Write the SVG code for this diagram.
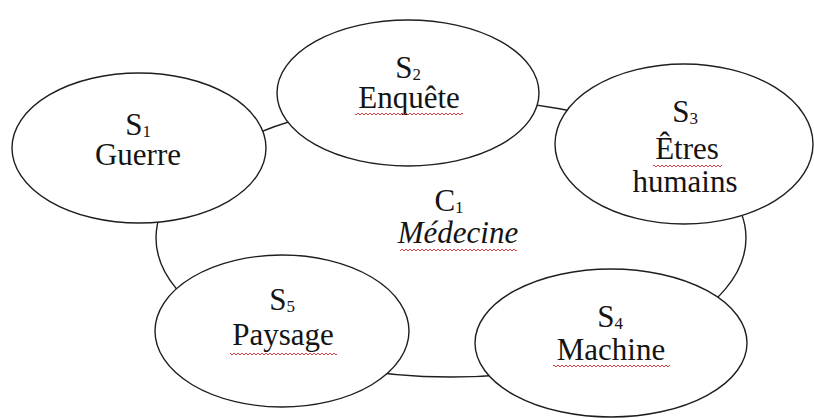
<svg xmlns="http://www.w3.org/2000/svg" width="814" height="418" viewBox="0 0 814 418">
  <defs>
    <style>
      .node { fill: #ffffff; stroke: #1e1e1e; stroke-width: 1.4; }
      .ring { fill: none; stroke: #1e1e1e; stroke-width: 1.4; }
      .lbl { font-family: "Liberation Serif", "Times New Roman", serif; font-size: 31px; fill: #141414; text-anchor: middle; }
      .it { font-style: italic; }
      .sub { font-size: 17px; }
      .wave { fill: url(#wavy); }
    </style>
    <pattern id="wavy" patternUnits="userSpaceOnUse" x="0" y="0" width="4" height="4">
      <path d="M0,3 L2,1 L4,3" fill="none" stroke="#d42a2a" stroke-width="0.9"/>
    </pattern>
  </defs>
  <rect x="0" y="0" width="814" height="418" fill="#ffffff"/>

  <g id="C1">
    <ellipse class="ring" cx="451" cy="238" rx="295" ry="139"/>
    <text class="lbl" x="449" y="211">C<tspan class="sub" dy="2">1</tspan></text>
    <text class="lbl it" x="458" y="243">Médecine</text>
    <rect class="wave" x="400" y="248" width="117" height="4"/>
  </g>

  <g id="S1">
    <ellipse class="node" cx="139" cy="148" rx="127" ry="75"/>
    <text class="lbl" x="138" y="135">S<tspan class="sub" dy="2">1</tspan></text>
    <text class="lbl" x="138" y="165">Guerre</text>
  </g>

  <g id="S2">
    <ellipse class="node" cx="408" cy="93" rx="131" ry="73"/>
    <text class="lbl" x="408" y="78">S<tspan class="sub" dy="2">2</tspan></text>
    <text class="lbl" x="409" y="108">Enquête</text>
    <rect class="wave" x="355" y="112" width="108" height="4"/>
  </g>

  <g id="S3">
    <ellipse class="node" cx="684" cy="144" rx="129" ry="80"/>
    <text class="lbl" x="685" y="122">S<tspan class="sub" dy="2">3</tspan></text>
    <text class="lbl" x="687" y="159">Êtres</text>
    <rect class="wave" x="653" y="164" width="69" height="4"/>
    <text class="lbl" x="685" y="192">humains</text>
  </g>

  <g id="S4">
    <ellipse class="node" cx="611" cy="343" rx="136" ry="74"/>
    <text class="lbl" x="610" y="327">S<tspan class="sub" dy="2">4</tspan></text>
    <text class="lbl" x="611" y="360">Machine</text>
    <rect class="wave" x="553" y="364" width="117" height="4"/>
  </g>

  <g id="S5">
    <ellipse class="node" cx="282" cy="331" rx="127" ry="76"/>
    <text class="lbl" x="282" y="310">S<tspan class="sub" dy="2">5</tspan></text>
    <text class="lbl" x="283" y="345">Paysage</text>
    <rect class="wave" x="230" y="352" width="107" height="4"/>
  </g>
</svg>
